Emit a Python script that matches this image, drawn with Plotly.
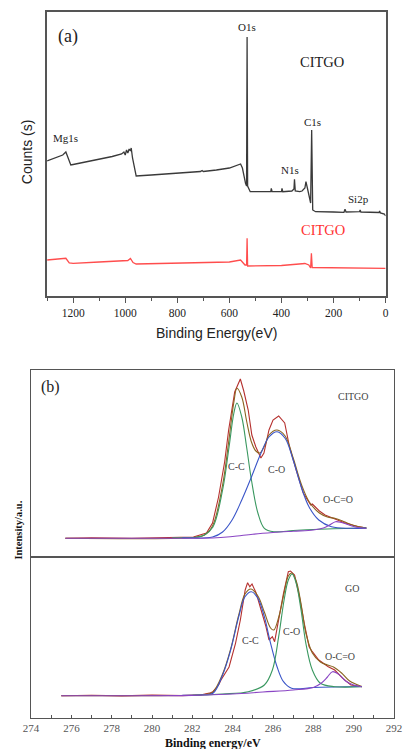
import plotly.graph_objects as go

W, H = 409, 749

# ---------------- Panel (a): XPS survey ----------------
survey_black_e = [1300, 1280, 1260, 1240, 1228, 1220, 1209, 1200, 1150, 1100, 1050, 1014, 1005, 1000,
                  995, 990, 985, 980, 977, 972, 958, 900, 800, 711, 705, 700, 650, 600, 557, 550,
                  538, 534, 532, 530, 520, 450, 441, 439, 436, 400, 398, 395, 360, 352, 350, 347,
                  330, 321, 310, 306, 302, 298, 288, 284, 280, 269, 200, 160, 156, 152, 100, 98,
                  95, 60, 55, 25, 23, 20, 5, 0]
survey_black_v = [135, 137, 139, 141, 144, 138, 131, 131.5, 134, 137, 139.5, 142, 144, 141,
                  146, 143, 147, 145, 148, 138, 120, 121, 123, 124.5, 125.5, 124.5, 126, 128, 132, 128,
                  112.7, 110, 259, 110, 104.3, 104.3, 104.5, 107.7, 104.3, 104.3, 107.7, 104.3, 105, 107, 116.7, 105,
                  104.3, 105, 108, 114.3, 108, 105, 93, 166, 86, 84.3, 84, 83.7, 86.7, 84, 84.3, 86,
                  84, 84, 84, 83.5, 85, 83, 82, 80]

survey_red_e = [1300, 1240, 1228, 1215, 1200, 1100, 1000, 990, 980, 970, 958, 800, 600, 557, 540,
                534, 532, 530, 520, 400, 310, 295, 288, 285, 282, 200, 0]
survey_red_v = [36, 37, 37.7, 33, 32.7, 34, 36, 35.5, 37.5, 33.5, 32, 33, 34, 36, 31,
                31, 57.7, 30, 30, 30.5, 32.5, 31, 28, 42.7, 28.5, 28.3, 27.7]

survey_ticks = [1200, 1000, 800, 600, 400, 200, 0]

# ---------------- Panel (b): C1s high resolution ----------------
# CITGO
citgo_raw_e = [275.7, 277, 279, 281, 282.05, 282.7, 283.0, 283.3, 283.6, 283.8, 284.1, 284.38, 284.55,
               284.77, 284.95, 285.15, 285.4, 285.55, 285.8, 286.0, 286.28, 286.58, 286.82, 287.15,
               287.5, 287.87, 287.95, 288.1, 288.3, 288.58, 288.9, 289.2, 289.5, 289.87, 290.2, 290.63]
citgo_raw_v = [18.7, 19.3, 18.8, 19.6, 20, 24, 34, 60, 95, 127, 165, 178, 166,
               147, 122, 110, 99, 104, 127, 137, 141, 134, 110, 87,
               64, 52, 53, 50, 46, 42, 39, 37, 34.5, 32, 30.5, 29]
citgo_env_e = [275.7, 282.0, 282.6, 283.0, 283.5, 283.8, 284.06, 284.21, 284.45, 284.7, 284.93, 285.15,
               285.35, 285.6, 285.8, 286.2, 286.6, 287.0, 287.4, 287.8, 288.3, 288.7, 289.1, 289.5,
               290.0, 290.63]
citgo_env_v = [18.7, 19.5, 22, 31, 72, 115, 155, 168.7, 160, 135, 115, 106,
               104, 112, 122, 127, 121, 99, 73, 55, 44, 40, 38.5, 35.5, 31.5, 29]
citgo_cc_e = [281.0, 282.2, 282.6, 283.02, 283.5, 283.82, 284.06, 284.21, 284.45, 284.69, 284.93,
              285.25, 285.57, 286.04, 287.0, 288.0, 289.0, 290.63]
citgo_cc_v = [19.2, 19.8, 22, 30, 67, 110, 144, 154, 140, 110, 77, 44, 28.7, 25.3, 26.5, 27.5, 28.2, 29]
citgo_co_e = [281.5, 283.0, 283.5, 283.97, 284.45, 284.93, 285.4, 285.8, 286.2, 286.6, 287.0,
              287.4, 287.79, 288.27, 288.9, 289.86, 290.63]
citgo_co_v = [19.3, 20, 25, 37, 57, 80, 103.7, 120, 125.3, 118.7, 97, 70, 50, 37, 30.3, 28.7, 28.7]
citgo_bg_e = [275.7, 280, 283, 284, 285, 286, 287, 288, 288.5, 288.8, 289.1, 289.4, 289.7,
              290.0, 290.3, 290.63]
citgo_bg_v = [18.7, 18.8, 19, 20.5, 22.8, 24.5, 25.8, 27, 29, 32, 35.3, 34.5, 32.5, 30.5, 29.3, 28.7]

# GO
go_raw_e = [275.5, 277, 278.5, 280, 281.5, 282.4, 282.9, 283.02, 283.3, 283.42, 283.82, 284.14, 284.38,
            284.62, 284.74, 284.85, 284.96, 285.17, 285.41, 285.65, 285.8, 285.97, 286.08, 286.28,
            286.52, 286.76, 286.87, 287.07, 287.31, 287.55, 287.79, 287.95, 288.27, 288.74, 289.06,
            289.46, 289.86, 290.41]
go_raw_v = [22.3, 22.8, 22.1, 22.9, 22.4, 23, 25.3, 26.3, 33, 38, 51, 74.7, 98,
            128, 135.3, 131.3, 134, 124.7, 108, 91.3, 78, 81.3, 76.3, 98,
            124.7, 146.3, 147, 143, 121.3, 94.7, 71.3, 66.3, 58, 51.3, 48,
            39.7, 33, 31.3]
go_env_e = [275.5, 282.0, 282.6, 283.0, 283.5, 283.9, 284.3, 284.61, 284.9, 285.25, 285.57, 285.88,
            286.04, 286.3, 286.55, 286.76, 286.93, 287.15, 287.4, 287.63, 287.95, 288.35, 288.7,
            289.0, 289.4, 289.8, 290.41]
go_env_v = [22.3, 22.8, 23.5, 25.5, 44, 69, 103, 124, 129, 122, 106, 90,
            88, 102, 125, 142, 145, 137, 113, 85, 65, 56, 53, 51, 45, 37, 31.5]
go_cc_e = [281.5, 282.5, 283.02, 283.5, 283.9, 284.3, 284.61, 284.93, 285.25, 285.57, 285.88,
           286.2, 286.52, 286.92, 288.0, 289.0, 290.41]
go_cc_v = [22.6, 23.2, 24.7, 43, 68, 101.3, 121.3, 126.3, 119.7, 101.3, 74.7, 51.3, 36.3, 29.7,
           30.5, 31, 31.5]
go_co_e = [282.0, 283.5, 284.77, 285.57, 285.97, 286.28, 286.55, 286.76, 286.95, 287.15, 287.39,
           287.63, 287.95, 288.35, 289.06, 290.41]
go_co_v = [22.7, 24, 26.3, 33, 48, 81.3, 118, 138, 144, 134.7, 108, 74.7, 48, 34.7, 31.3, 31.3]
go_bg_e = [275.5, 282, 284, 285.5, 287, 288, 288.4, 288.7, 288.95, 289.3, 289.6, 290.0, 290.41]
go_bg_v = [22.3, 22.6, 24, 26, 28, 30.5, 35, 41, 46.3, 43, 37, 33, 31.3]

hr_ticks = [274, 276, 278, 280, 282, 284, 286, 288, 290, 292]

# ---------------- Figure ----------------
fig = go.Figure()

C_RAW, C_ENV, C_GRN, C_BLU, C_PUR = "#B5302E", "#8A6420", "#3A9860", "#3A55C8", "#8A45C4"

fig.add_trace(go.Scatter(x=survey_black_e, y=survey_black_v, mode="lines",
                         line=dict(color="#3a3a3a", width=1.3), xaxis="x", yaxis="y"))
fig.add_trace(go.Scatter(x=survey_red_e, y=survey_red_v, mode="lines",
                         line=dict(color="#FF4D4D", width=1.3), xaxis="x", yaxis="y"))

def add_set(ax, ay, raw, env, cc, co, bg, cc_col, co_col):
    fig.add_trace(go.Scatter(x=raw[0], y=raw[1], mode="lines", line=dict(color=C_RAW, width=1.1),
                             xaxis=ax, yaxis=ay))
    fig.add_trace(go.Scatter(x=env[0], y=env[1], mode="lines", line=dict(color=C_ENV, width=1.1, shape="spline"),
                             xaxis=ax, yaxis=ay))
    fig.add_trace(go.Scatter(x=cc[0], y=cc[1], mode="lines", line=dict(color=cc_col, width=1.1, shape="spline"),
                             xaxis=ax, yaxis=ay))
    fig.add_trace(go.Scatter(x=co[0], y=co[1], mode="lines", line=dict(color=co_col, width=1.1, shape="spline"),
                             xaxis=ax, yaxis=ay))
    fig.add_trace(go.Scatter(x=bg[0], y=bg[1], mode="lines", line=dict(color=C_PUR, width=1.1, shape="spline"),
                             xaxis=ax, yaxis=ay))

add_set("x3", "y3", (citgo_raw_e, citgo_raw_v), (citgo_env_e, citgo_env_v), (citgo_cc_e, citgo_cc_v),
        (citgo_co_e, citgo_co_v), (citgo_bg_e, citgo_bg_v), C_GRN, C_BLU)
add_set("x2", "y2", (go_raw_e, go_raw_v), (go_env_e, go_env_v), (go_cc_e, go_cc_v),
        (go_co_e, go_co_v), (go_bg_e, go_bg_v), C_BLU, C_GRN)

def px(x):
    return x / W

def py(y):
    return 1 - y / H

SERIF = "Liberation Serif"
SANS = "Liberation Sans"
frame = "#555555"

fig.update_layout(
    width=W, height=H, showlegend=False,
    margin=dict(l=0, r=0, t=0, b=0),
    paper_bgcolor="white", plot_bgcolor="white",
    xaxis=dict(domain=[px(40.7), px(393)], range=[1300, 0], anchor="y",
               tickvals=survey_ticks, ticks="outside", ticklen=5, tickcolor=frame, tickwidth=1,
               minor=dict(dtick=100, ticks="outside", ticklen=3, tickcolor=frame),
               showline=True, linecolor=frame, linewidth=1.5, mirror=True, showgrid=False, zeroline=False,
               tickfont=dict(family=SERIF, size=11.5, color="#222")),
    yaxis=dict(domain=[py(296), py(12)], range=[0, 284], anchor="x",
               showticklabels=False, ticks="", showline=True, linecolor=frame, linewidth=1.5,
               mirror=True, showgrid=False, zeroline=False),
    xaxis2=dict(domain=[px(24), px(401.7)], range=[274, 292], anchor="y2",
                tickvals=hr_ticks, ticks="inside", ticklen=3, tickcolor=frame,
                minor=dict(dtick=1, ticks="inside", ticklen=3, tickcolor=frame),
                showline=True, linecolor=frame, linewidth=1.2, mirror=True, showgrid=False, zeroline=False,
                tickfont=dict(family=SERIF, size=11, color="#555")),
    yaxis2=dict(domain=[py(718), py(557)], range=[0, 161], anchor="x2",
                showticklabels=False, ticks="", showline=True, linecolor=frame, linewidth=1.2,
                mirror=True, showgrid=False, zeroline=False),
    xaxis3=dict(domain=[px(24), px(401.7)], range=[274, 292], anchor="y3",
                showticklabels=False, ticks="", showline=True, linecolor=frame, linewidth=1.2,
                mirror=True, showgrid=False, zeroline=False),
    yaxis3=dict(domain=[py(557), py(370)], range=[0, 187], anchor="x3",
                showticklabels=False, ticks="", showline=True, linecolor=frame, linewidth=1.2,
                mirror=True, showgrid=False, zeroline=False),
)

def lab(text, x, y, xr, yr, size, color="#222", family=SERIF, **kw):
    fig.add_annotation(text=text, x=x, y=y, xref=xr, yref=yr, showarrow=False,
                       xanchor="center", yanchor="middle",
                       font=dict(family=family, size=size, color=color), **kw)

# panel (a) labels
lab("(a)", 1221, 259, "x", "y", 18)
lab("O1s", 531, 269, "x", "y", 11)
lab("CITGO", 244, 234, "x", "y", 14.5)
lab("C1s", 280, 174, "x", "y", 11)
lab("Mg1s", 1229, 158, "x", "y", 11)
lab("N1s", 369, 126, "x", "y", 11)
lab("Si2p", 103, 97, "x", "y", 11)
lab("CITGO", 240, 66, "x", "y", 14.5, color="#FF3333")
lab("Binding Energy(eV)", px(217), py(333), "paper", "paper", 14, family=SANS, color="#222")
lab("Counts (s)", px(20), py(152), "paper", "paper", 14, family=SANS, color="#222", textangle=-90)

# panel (b) labels
lab("(b)", 274.95, 170, "x3", "y3", 16)
lab("CITGO", 290.0, 160, "x3", "y3", 10, color="#444")
lab("C-C", 284.2, 90, "x3", "y3", 10, color="#444")
lab("C-O", 286.15, 87, "x3", "y3", 10, color="#444")
lab("O-C=O", 289.2, 57, "x3", "y3", 10, color="#444")
lab("GO", 289.9, 130, "x2", "y2", 10, color="#444")
lab("C-C", 284.87, 78, "x2", "y2", 10, color="#444")
lab("C-O", 286.92, 87, "x2", "y2", 10, color="#444")
lab("O-C=O", 289.3, 62, "x2", "y2", 10, color="#444")
lab("<b>Binding energy/eV</b>", px(213), py(743), "paper", "paper", 12, color="#111")
lab("<b>Intensity/a.u.</b>", px(10), py(530), "paper", "paper", 10.5, color="#111", textangle=-90)

fig.write_html("out.html")
